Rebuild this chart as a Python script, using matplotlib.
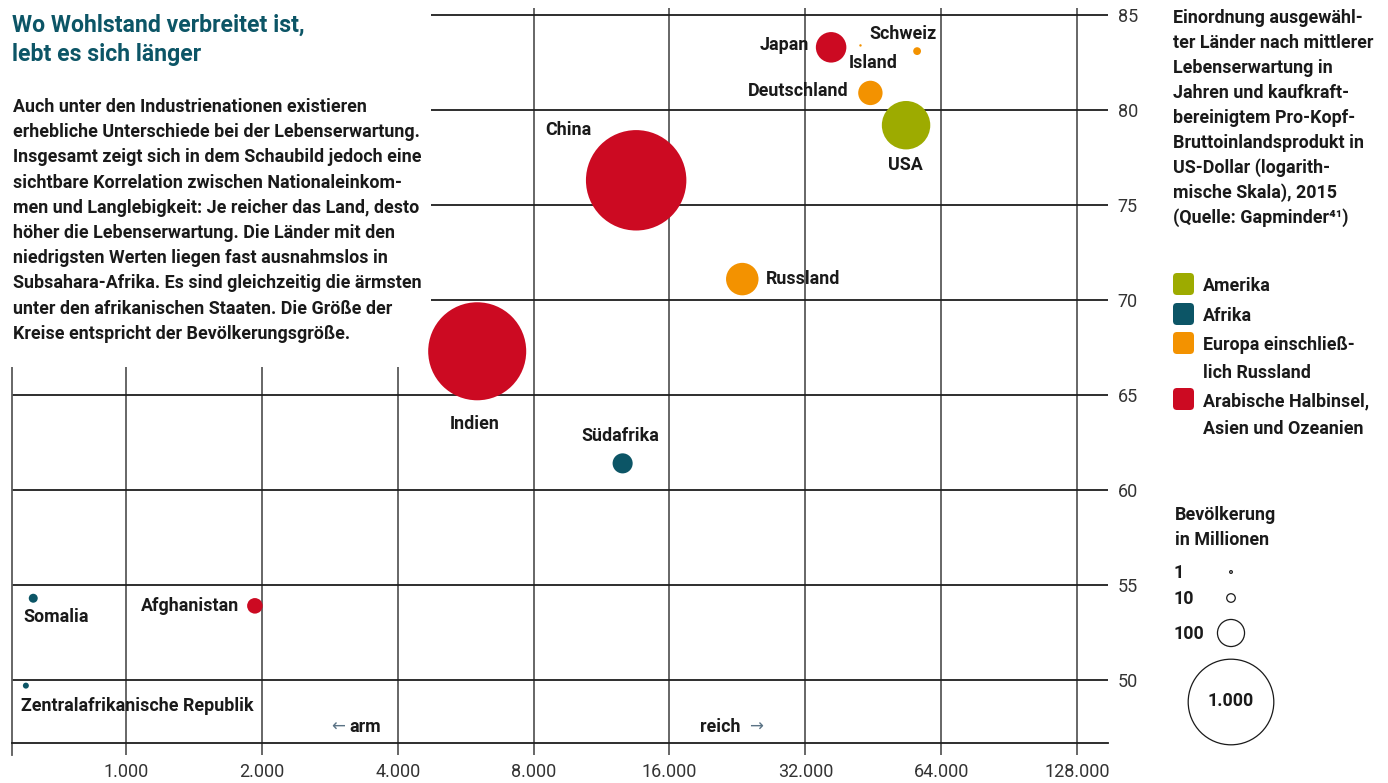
import numpy as np
import matplotlib
matplotlib.use('Agg')
import matplotlib.pyplot as plt
from matplotlib.patches import Rectangle, FancyBboxPatch
from matplotlib.ticker import NullLocator, FixedLocator, FixedFormatter

# data
countries = ['China', 'Indien', 'USA', 'Russland', 'Japan', 'Deutschland',
             'Südafrika', 'Afghanistan', 'Somalia', 'Schweiz',
             'Zentralafrikanische Republik', 'Island']
gdp = [13500, 6000, 53500, 23200, 36500, 44600, 12600, 1930, 623, 56600, 600, 42400]
life = [76.3, 67.3, 79.2, 71.1, 83.3, 80.9, 61.4, 53.9, 54.3, 83.1, 49.7, 83.4]
pop = [1376, 1311, 320, 144, 127, 81, 55, 33, 11, 8.3, 4.9, 0.8]
region = ['asien', 'asien', 'amerika', 'europa', 'asien', 'europa',
          'afrika', 'asien', 'afrika', 'europa', 'afrika', 'europa']

xticks = [1000, 2000, 4000, 8000, 16000, 32000, 64000, 128000]
xticklabels = ['1.000', '2.000', '4.000', '8.000', '16.000', '32.000', '64.000', '128.000']
yticks = [50, 55, 60, 65, 70, 75, 80, 85]

region_keys = ['amerika', 'afrika', 'europa', 'asien']
region_labels = ['Amerika', 'Afrika', 'Europa einschließ-\nlich Russland',
                 'Arabische Halbinsel,\nAsien und Ozeanien']
pop_legend = [1, 10, 100, 1000]
pop_legend_labels = ['1', '10', '100', '1.000']

colors = {'amerika': '#9dab00', 'afrika': '#0c5566',
          'europa': '#f39200', 'asien': '#cc0a22'}

# label placement: offset in pixels from bubble centre, alignment
label_pos = {
    'China': (-91, 50, 'left'),
    'Indien': (-3, -73, 'center'),
    'USA': (-1, -40, 'center'),
    'Russland': (24, 0, 'left'),
    'Japan': (-22, 2, 'right'),
    'Deutschland': (-22, 2, 'right'),
    'Südafrika': (-2, 27, 'center'),
    'Afghanistan': (-16, 0, 'right'),
    'Somalia': (-10, -19, 'left'),
    'Schweiz': (-14, 17, 'center'),
    'Zentralafrikanische Republik': (-5, -20, 'left'),
    'Island': (13, -18, 'center'),
}

FONT = ['Roboto', 'DejaVu Sans']
TXT = '#1a1a1a'
SIZE = 12.9
SCALE = 3.8   # points^2 per million people

W, H = 1388, 783
fig = plt.figure(figsize=(W / 100, H / 100), dpi=100)
ax = fig.add_axes([12 / W, 1 - 743 / H, 1096 / W, 735 / H])
ax.set_xscale('log', base=2)
ax.set_xlim(559, 149900)
ax.set_ylim(46.68, 85.37)

ax.xaxis.set_major_locator(FixedLocator(xticks))
ax.xaxis.set_major_formatter(FixedFormatter(xticklabels))
ax.xaxis.set_minor_locator(NullLocator())
ax.set_yticks(yticks)
ax.yaxis.tick_right()
ax.tick_params(axis='x', length=8.6, width=1.3, color='#5a5a5a', pad=6,
               labelsize=13, labelcolor='#333333')
ax.tick_params(axis='y', length=0, pad=7, labelsize=13, labelcolor='#333333')
for lab in ax.get_xticklabels() + ax.get_yticklabels():
    lab.set_family(FONT)

ax.grid(axis='x', color='#5a5a5a', lw=1.3)
ax.grid(axis='y', color='#1e1e1e', lw=1.3)
ax.set_axisbelow(True)
for s in ['top', 'right', 'left']:
    ax.spines[s].set_visible(False)
ax.spines['bottom'].set_color('#1e1e1e')
ax.spines['bottom'].set_linewidth(1.3)
ax.axvline(559, ymin=-12 / 735, ymax=1, color='#5a5a5a', lw=1.3,
           clip_on=False, zorder=0.6)

# white box for the intro text
ax.add_patch(Rectangle((0, 1 - 367 / H), 431 / W, 367 / H, transform=fig.transFigure,
                       facecolor='white', edgecolor='none', zorder=1, clip_on=False))

order = np.argsort(pop)[::-1]
ax.scatter(np.array(gdp)[order], np.array(life)[order],
           s=SCALE * np.array(pop)[order],
           c=[colors[region[i]] for i in order], edgecolors='none', zorder=3)

for i, name in enumerate(countries):
    dx, dy, ha = label_pos[name]
    ax.annotate(name, (gdp[i], life[i]), xytext=(dx, dy), textcoords='offset pixels',
                ha=ha, va='center', fontsize=SIZE, fontweight='bold',
                family=FONT, color=TXT, zorder=4)

# overlay in pixel coordinates for the text panels
ov = fig.add_axes([0, 0, 1, 1])
ov.set_xlim(0, W)
ov.set_ylim(H, 0)
ov.axis('off')

ov.text(12, 31.5, 'Wo Wohlstand verbreitet ist,', fontsize=16.6, fontweight='bold',
        family=FONT, color='#0c5566', va='baseline')
ov.text(12, 61, 'lebt es sich länger', fontsize=16.6, fontweight='bold',
        family=FONT, color='#0c5566', va='baseline')

body = ['Auch unter den Industrienationen existieren',
        'erhebliche Unterschiede bei der Lebenserwartung.',
        'Insgesamt zeigt sich in dem Schaubild jedoch eine',
        'sichtbare Korrelation zwischen Nationaleinkom-',
        'men und Langlebigkeit: Je reicher das Land, desto',
        'höher die Lebenserwartung. Die Länder mit den',
        'niedrigsten Werten liegen fast ausnahmslos in',
        'Subsahara-Afrika. Es sind gleichzeitig die ärmsten',
        'unter den afrikanischen Staaten. Die Größe der',
        'Kreise entspricht der Bevölkerungsgröße.']
for k, line in enumerate(body):
    ov.text(13, 107 + k * 25.2, line, fontsize=SIZE, fontweight='bold',
            family=FONT, color=TXT, va='center')

desc = ['Einordnung ausgewähl-', 'ter Länder nach mittlerer', 'Lebenserwartung in',
        'Jahren und kaufkraft-', 'bereinigtem Pro-Kopf-', 'Bruttoinlandsprodukt in',
        'US-Dollar (logarith-', 'mische Skala), 2015', '(Quelle: Gapminder⁴¹)']
for k, line in enumerate(desc):
    ov.text(1173, 18 + k * 25, line, fontsize=SIZE, fontweight='bold',
            family=FONT, color=TXT, va='center')

# region legend
sq_y = [284, 314, 343, 399]
for key, lab, yc in zip(region_keys, region_labels, sq_y):
    ov.add_patch(FancyBboxPatch((1176, yc - 8), 15, 16,
                                boxstyle='round,pad=3,rounding_size=4',
                                facecolor=colors[key], edgecolor='none'))
    for j, part in enumerate(lab.split('\n')):
        ov.text(1203, yc + 2 + j * 28, part, fontsize=SIZE, fontweight='bold',
                family=FONT, color=TXT, va='center')

# population legend
ov.text(1175, 515, 'Bevölkerung', fontsize=SIZE, fontweight='bold',
        family=FONT, color=TXT, va='center')
ov.text(1175, 540, 'in Millionen', fontsize=SIZE, fontweight='bold',
        family=FONT, color=TXT, va='center')
leg_y = [572, 598, 633, 702]
ov.scatter([1231] * 4, leg_y, s=SCALE * np.array(pop_legend), facecolors='white',
           edgecolors='#1a1a1a', linewidths=0.9, zorder=3)
for lab, yc in zip(pop_legend_labels[:3], leg_y[:3]):
    ov.text(1174, yc + 1, lab, fontsize=SIZE, fontweight='bold',
            family=FONT, color=TXT, va='center')
ov.text(1231, 701, pop_legend_labels[3], fontsize=SIZE, fontweight='bold',
        family=FONT, color=TXT, va='center', ha='center', zorder=4)

# arm / reich
ov.text(345, 727, '←', fontsize=12, family=['DejaVu Sans'], color='#5b7385',
        va='center', ha='right')
ov.text(349, 727, 'arm', fontsize=SIZE, fontweight='bold', family=FONT,
        color=TXT, va='center')
ov.text(741, 727, 'reich', fontsize=SIZE, fontweight='bold', family=FONT,
        color=TXT, va='center', ha='right')
ov.text(749, 727, '→', fontsize=12, family=['DejaVu Sans'], color='#5b7385',
        va='center')

fig.savefig('out.png', dpi=100)
